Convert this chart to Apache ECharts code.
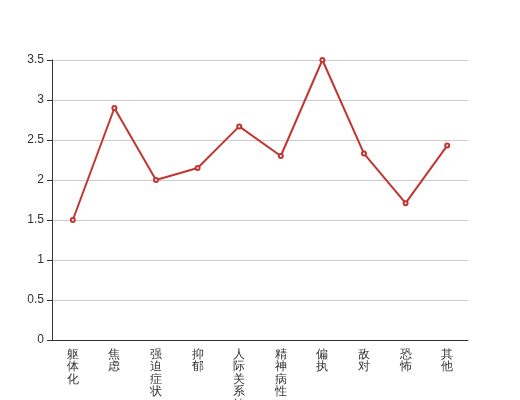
<!DOCTYPE html>
<html>
<head>
<meta charset="utf-8">
<script src="https://cdn.jsdelivr.net/npm/echarts@6/dist/echarts.min.js"></script>
<style>html,body{margin:0;padding:0;background:#fff}#c{width:520px;height:400px}</style>
</head>
<body>
<div id="c"></div>
<script>
const categories = ['躯体化','焦虑','强迫症状','抑郁','人际关系敏感','精神病性','偏执','敌对','恐怖','其他'];
const values = [1.5, 2.9, 2.0, 2.15, 2.67, 2.3, 3.5, 2.33, 1.71, 2.43];
const yTicks = {min: 0, max: 3.5, interval: 0.5};

const chart = echarts.init(document.getElementById('c'), null, {renderer: 'canvas'});
chart.setOption({
  animation: false,
  grid: {left: 52, right: 52, top: 60, bottom: 60, containLabel: false, outerBoundsMode: 'none'},
  xAxis: {
    type: 'category',
    data: categories,
    axisLine: {lineStyle: {color: '#333'}},
    axisTick: {lineStyle: {color: '#333'}},
    axisLabel: {
      color: '#333', fontSize: 12, lineHeight: 12.5, interval: 0,
      formatter: v => v.split('').join('\n')
    }
  },
  yAxis: {
    type: 'value',
    min: yTicks.min, max: yTicks.max, interval: yTicks.interval,
    axisLine: {show: true, lineStyle: {color: '#333'}},
    axisTick: {show: true, lineStyle: {color: '#333'}},
    axisLabel: {color: '#333', fontSize: 12},
    splitLine: {lineStyle: {color: '#ccc'}}
  },
  series: [{
    type: 'line',
    data: values,
    symbol: 'emptyCircle',
    symbolSize: 4,
    itemStyle: {color: '#c23531'},
    lineStyle: {width: 2, color: '#c23531'}
  }]
});
</script>
</body>
</html>
